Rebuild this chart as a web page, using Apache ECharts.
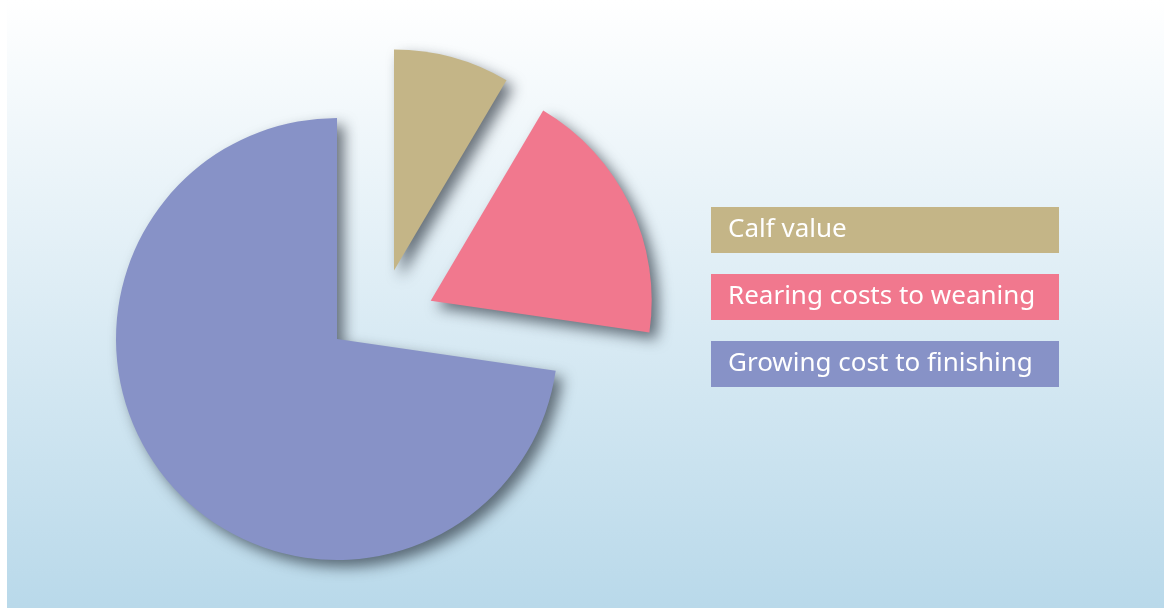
<!DOCTYPE html>
<html>
<head>
<meta charset="utf-8">
<script src="https://cdn.jsdelivr.net/npm/echarts@6/dist/echarts.min.js"></script>
<style>
  html, body { margin: 0; padding: 0; background: #ffffff; }
  #chart { position: absolute; left: 7px; top: 0; width: 1157px; height: 608px; }
</style>
</head>
<body>
<div id="chart"></div>
<script>
const categories = ['Calf value', 'Rearing costs to weaning', 'Growing cost to finishing'];
const values = [8.5, 18.8, 72.7];
const colors = ['#c4b587', '#f1788e', '#8792c7'];

const centers = [[387, 270.5], [423.7, 300.7], [330, 339]];
const drawOrder = [2, 0, 1];

const chart = echarts.init(document.getElementById('chart'), null, { renderer: 'canvas' });

const series = drawOrder.map(function (k) {
  return {
    type: 'pie',
    name: categories[k],
    center: centers[k],
    radius: [0, 221],
    startAngle: 90,
    clockwise: true,
    silent: true,
    animation: false,
    label: { show: false },
    labelLine: { show: false },
    emphasis: { disabled: true },
    data: categories.map(function (c, i) {
      return {
        name: c,
        value: values[i],
        itemStyle: i === k ? {
          color: colors[i],
          shadowColor: 'rgba(35,45,55,0.65)',
          shadowBlur: 14,
          shadowOffsetX: 7,
          shadowOffsetY: 7
        } : { color: 'rgba(0,0,0,0)', shadowBlur: 0 }
      };
    })
  };
});

chart.setOption({
  backgroundColor: {
    type: 'linear', x: 0, y: 0, x2: 0, y2: 1,
    colorStops: [
      { offset: 0, color: '#ffffff' },
      { offset: 1, color: '#b9d9ea' }
    ]
  },
  color: colors,
  legend: {
    orient: 'vertical',
    left: 699,
    top: 207,
    padding: 0,
    itemGap: 21,
    itemWidth: 0,
    itemHeight: 0,
    selectedMode: false,
    data: categories.map(function (c, i) {
      return {
        name: c,
        icon: 'rect',
        textStyle: {
          color: '#ffffff',
          fontFamily: 'Noto Sans',
          fontSize: 26,
          backgroundColor: colors[i],
          width: 331,
          height: 43,
          lineHeight: 43,
          padding: [3, 0, 0, 17]
        }
      };
    })
  },
  series: series
});
</script>
</body>
</html>
